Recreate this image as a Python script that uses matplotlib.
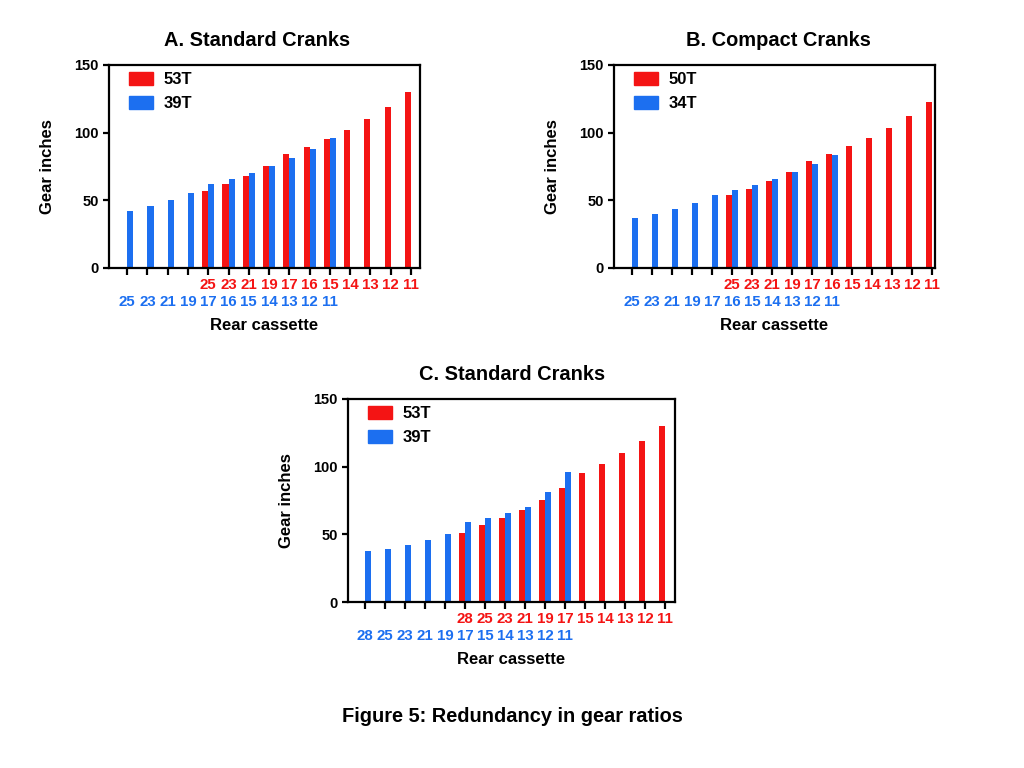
import matplotlib
matplotlib.use("Agg")
import matplotlib.pyplot as plt
from matplotlib.patches import Patch

plt.rcParams['font.family'] = ['Liberation Sans', 'DejaVu Sans']
plt.rcParams['font.weight'] = 'bold'
plt.rcParams['axes.labelweight'] = 'bold'

RED = '#F41414'
BLUE = '#1C6FF0'

# Panel A: standard cranks 53/39
a_cogs = [25, 23, 21, 19, 17, 16, 15, 14, 13, 12, 11]
a_big = [57.2, 62.2, 68.1, 75.3, 84.2, 89.4, 95.4, 102.2, 110.1, 119.3, 130.1]
a_small = [42.1, 45.8, 50.1, 55.4, 61.9, 65.8, 70.2, 75.2, 81.0, 87.8, 95.7]

# Panel B: compact cranks 50/34
b_cogs = [25, 23, 21, 19, 17, 16, 15, 14, 13, 12, 11]
b_big = [54.0, 58.7, 64.3, 71.1, 79.4, 84.4, 90.0, 96.4, 103.8, 112.5, 122.7]
b_small = [36.7, 39.9, 43.7, 48.3, 54.0, 57.4, 61.2, 65.6, 70.6, 76.5, 83.5]

# Panel C: standard cranks with 11-28 cassette
c_cogs = [28, 25, 23, 21, 19, 17, 15, 14, 13, 12, 11]
c_big = [51.1, 57.2, 62.2, 68.1, 75.3, 84.2, 95.4, 102.2, 110.1, 119.3, 130.1]
c_small = [37.7, 38.9, 41.9, 45.8, 50.0, 58.9, 61.8, 65.8, 70.0, 81.0, 96.0]

fig = plt.figure(figsize=(10.24, 7.68), dpi=100)


def panel(rect_px, cogs, big, small, big_start, xlim, big_name, small_name):
    left, top, right, bottom = rect_px
    ax = fig.add_axes([left / 1024, 1 - bottom / 768,
                       (right - left) / 1024, (bottom - top) / 768])
    n_pos = big_start + len(big)
    x_big = [big_start + i for i in range(len(big))]
    x_small = list(range(len(small)))

    # big ring bars sit left of the tick, small ring bars right of it
    ax.bar([x - 0.3 for x in x_big], big, width=0.3, align='edge',
           color=RED, linewidth=0)
    ax.bar(x_small, small, width=0.3, align='edge', color=BLUE, linewidth=0)

    ax.set_xlim(*xlim)
    ax.set_ylim(0, 150)
    ax.set_yticks([0, 50, 100, 150])
    ax.set_xticks(range(n_pos))
    ax.set_xticklabels([])
    for s in ax.spines.values():
        s.set_linewidth(1.6)
    ax.tick_params(axis='both', width=1.6, length=4, labelsize=10.5)
    ax.tick_params(axis='x', length=5)

    for x, c in zip(x_big, cogs):
        ax.annotate(str(c), xy=(x, 0), xycoords=('data', 'axes fraction'),
                    xytext=(0, -12.5), textcoords='offset points',
                    ha='center', va='center', color=RED, fontsize=10.8)
    for x, c in zip(x_small, cogs):
        ax.annotate(str(c), xy=(x, 0), xycoords=('data', 'axes fraction'),
                    xytext=(0, -24.5), textcoords='offset points',
                    ha='center', va='center', color=BLUE, fontsize=10.8)
    ax.annotate('Rear cassette', xy=(0.5, 0), xycoords='axes fraction',
                xytext=(0, -41.5), textcoords='offset points',
                ha='center', va='center', fontsize=12)
    ax.set_ylabel('Gear inches', fontsize=12)
    ax.yaxis.set_label_coords(-54 / (right - left), 0.5)

    handles = [Patch(color=RED, label=big_name), Patch(color=BLUE, label=small_name)]
    ax.legend(handles=handles, loc='upper left', frameon=False, fontsize=12,
              handlelength=1.45, handleheight=0.85, borderpad=0.0,
              borderaxespad=0.0, handletextpad=0.65, labelspacing=0.5,
              bbox_to_anchor=(20 / (right - left), 1 - 7 / (bottom - top)))
    return ax


panel((109, 65, 420, 268), a_cogs, a_big, a_small, 4, (-0.9, 14.45), '53T', '39T')
panel((614, 65, 935, 268), b_cogs, b_big, b_small, 5, (-0.9, 15.15), '50T', '34T')
panel((348, 399, 675, 602), c_cogs, c_big, c_small, 5, (-0.85, 15.5), '53T', '39T')

fig.text(257 / 1024, 1 - 40 / 768, 'A. Standard Cranks', ha='center', va='center', fontsize=14.4)
fig.text(778 / 1024, 1 - 40 / 768, 'B. Compact Cranks', ha='center', va='center', fontsize=14.4)
fig.text(512 / 1024, 1 - 375 / 768, 'C. Standard Cranks', ha='center', va='center', fontsize=14.4)
fig.text(512 / 1024, 1 - 716 / 768, 'Figure 5: Redundancy in gear ratios',
         ha='center', va='center', fontsize=14.4)

fig.savefig('out.png', dpi=100)
